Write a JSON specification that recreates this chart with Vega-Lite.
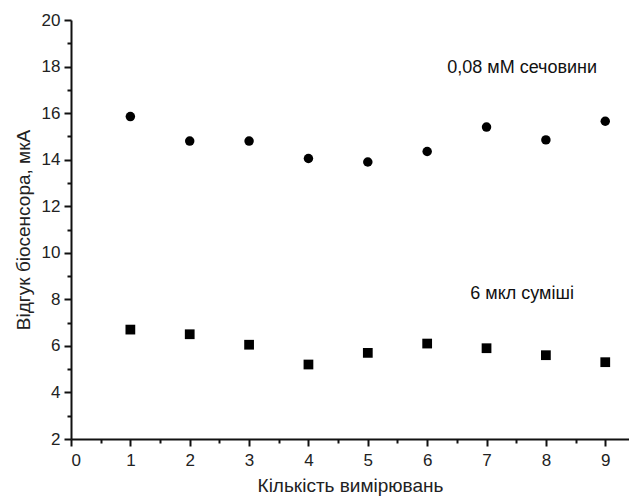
{
  "$schema": "https://vega.github.io/schema/vega-lite/v6.json",
  "autosize": "none",
  "width": 558,
  "height": 419,
  "padding": {"left": 71, "top": 20, "right": 0, "bottom": 60},
  "background": "white",
  "config": {
    "view": {"stroke": null},
    "font": "Liberation Sans",
    "axis": {"grid": false, "domainColor": "#111", "tickColor": "#111", "domainWidth": 2, "tickWidth": 2, "labelColor": "#222", "titleColor": "#222", "labelFont": "Liberation Sans", "titleFont": "Liberation Sans", "labelFontSize": 17, "titleFontSize": 19, "titleFontWeight": "normal"}
  },
  "datasets": {
    "pts": [
      {"n": 1, "v": 15.85, "s": "urea"}, {"n": 2, "v": 14.8, "s": "urea"}, {"n": 3, "v": 14.8, "s": "urea"},
      {"n": 4, "v": 14.05, "s": "urea"}, {"n": 5, "v": 13.9, "s": "urea"}, {"n": 6, "v": 14.35, "s": "urea"},
      {"n": 7, "v": 15.4, "s": "urea"}, {"n": 8, "v": 14.85, "s": "urea"}, {"n": 9, "v": 15.65, "s": "urea"},
      {"n": 1, "v": 6.7, "s": "mix"}, {"n": 2, "v": 6.5, "s": "mix"}, {"n": 3, "v": 6.05, "s": "mix"},
      {"n": 4, "v": 5.2, "s": "mix"}, {"n": 5, "v": 5.7, "s": "mix"}, {"n": 6, "v": 6.1, "s": "mix"},
      {"n": 7, "v": 5.9, "s": "mix"}, {"n": 8, "v": 5.6, "s": "mix"}, {"n": 9, "v": 5.3, "s": "mix"}
    ],
    "labels": [
      {"n": 7.6, "v": 17.95, "t": "0,08 мМ сечовини"},
      {"n": 7.6, "v": 8.25, "t": "6 мкл суміші"}
    ]
  },
  "layer": [
    {
      "data": {"name": "pts"},
      "transform": [{"filter": "datum.s === 'urea'"}],
      "mark": {"type": "point", "shape": "circle", "filled": true, "color": "#000", "size": 90, "opacity": 1},
      "encoding": {
        "x": {"field": "n", "type": "quantitative", "scale": {"domain": [0, 9.4], "nice": false, "zero": false},
          "axis": {"values": [0,1,2,3,4,5,6,7,8,9], "title": "Кількість вимірювань", "tickSize": 7, "labelPadding": 6, "titlePadding": 8}},
        "y": {"field": "v", "type": "quantitative", "scale": {"domain": [2, 20], "nice": false, "zero": false},
          "axis": {"values": [2,4,6,8,10,12,14,16,18,20], "title": "Відгук біосенсора, мкА", "tickSize": 7, "labelPadding": 4, "titlePadding": 8}}
      }
    },
    {
      "data": {"name": "pts"},
      "transform": [{"filter": "datum.s === 'mix'"}],
      "mark": {"type": "point", "shape": "square", "filled": true, "color": "#000", "size": 95, "opacity": 1},
      "encoding": {
        "x": {"field": "n", "type": "quantitative", "axis": {"orient": "bottom", "values": [0.5,1.5,2.5,3.5,4.5,5.5,6.5,7.5,8.5], "labels": false, "title": null, "tickSize": 4, "domain": false}},
        "y": {"field": "v", "type": "quantitative", "axis": {"orient": "left", "values": [3,5,7,9,11,13,15,17,19], "labels": false, "title": null, "tickSize": 4, "domain": false}}
      }
    },
    {
      "data": {"name": "labels"},
      "mark": {"type": "text", "fontSize": 18, "font": "Liberation Sans", "color": "#111", "align": "center", "baseline": "middle"},
      "encoding": {
        "x": {"field": "n", "type": "quantitative", "axis": null},
        "y": {"field": "v", "type": "quantitative", "axis": null},
        "text": {"field": "t"}
      }
    }
  ],
  "resolve": {"axis": {"x": "independent", "y": "independent"}}
}
